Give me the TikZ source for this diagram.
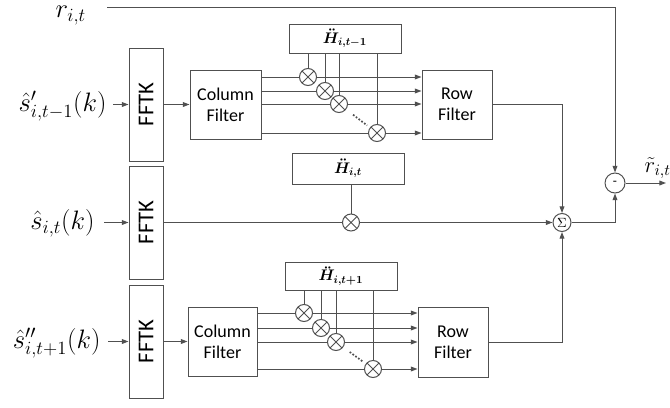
\documentclass[tikz,border=0pt]{standalone}
\usepackage{fix-cm}
\usepackage[no-math]{fontspec}
\setmainfont{Carlito}
\usepackage{amsmath,bm,graphicx}
\usetikzlibrary{arrows.meta,calc}
\definecolor{ln}{HTML}{505050}
\begin{document}
\begin{tikzpicture}[x=0.75pt,y=-0.75pt,
  line width=0.75pt,
  box/.style={draw=ln, line width=0.75pt, inner sep=0pt, align=center, fill=white,
              font=\fontsize{13.5}{16}\selectfont},
  hbox/.style={draw=ln, line width=0.75pt, inner sep=0pt, minimum width=84pt,
              font=\fontsize{11.5}{13}\selectfont},
  mult/.style={circle, draw=ln, fill=white, line width=0.75pt, minimum size=12.75pt, inner sep=0pt,
     path picture={\draw[ln, line width=0.75pt] (path picture bounding box.south west) -- (path picture bounding box.north east)
                   (path picture bounding box.north west) -- (path picture bounding box.south east);}},
  circ/.style={circle, draw=ln, line width=0.75pt, inner sep=0pt, font=\fontsize{10}{10}\selectfont},
  lab/.style={inner sep=0pt, font=\fontsize{20}{24}\selectfont},
  arr/.style={draw=ln, -{Triangle[length=5pt,width=3.6pt]}},
  ln/.style={draw=ln},
  dots/.style={draw=ln, line width=1.3pt, dash pattern=on 1.3pt off 1.3pt}
]
\useasboundingbox (0,0) rectangle (670,407);

% ---------- labels ----------
\node[lab, anchor=base west] (rl) at (55,17) {$r_{i,t}$};
\node[lab, anchor=base east] (in1) at (107,111) {$\hat{s}'_{i,t-1}(k)$};
\node[lab, anchor=base east] (in2) at (95,229) {$\hat{s}_{i,t}(k)$};
\node[lab, anchor=base east] (in3) at (101,348) {$\hat{s}''_{i,t+1}(k)$};

% ---------- FFTK ----------
\node[box, minimum width=25.5pt, minimum height=84.75pt, font=\fontsize{17}{17}\selectfont] (f1) at (146,104.5) {\rotatebox{90}{FFTK}};
\node[box, minimum width=25.5pt, minimum height=84.75pt, font=\fontsize{17}{17}\selectfont] (f2) at (146,222.5) {\rotatebox{90}{FFTK}};
\node[box, minimum width=25.5pt, minimum height=84.75pt, font=\fontsize{17}{17}\selectfont] (f3) at (146,341.5) {\rotatebox{90}{FFTK}};

% ---------- filters ----------
\node[box, minimum width=53.25pt, minimum height=51.75pt] (cf1) at (225.5,104.5) {Column\\Filter};
\node[box, minimum width=52.5pt, minimum height=51.75pt] (rf1) at (457,104.5) {Row\\Filter};
\node[box, minimum width=51.75pt, minimum height=51.75pt] (cf3) at (222.5,341.5) {Column\\Filter};
\node[box, minimum width=52.5pt, minimum height=52.5pt] (rf3) at (453,342) {Row\\Filter};

% ---------- H boxes ----------
\node[hbox, minimum height=21.75pt] (h1) at (345,38.5) {$\bm{\ddot{H}_{i,t-1}}$};
\node[hbox, minimum height=23.25pt] (h2) at (348,168.5) {$\bm{\ddot{H}_{i,t}}$};
\node[hbox, minimum height=21pt] (h3) at (341,276) {$\bm{\ddot{H}_{i,t+1}}$};

% ---------- multipliers ----------
\node[mult] (m11) at (308,77) {};
\node[mult] (m12) at (325,91) {};
\node[mult] (m13) at (339,104) {};
\node[mult] (m14) at (377,133) {};
\node[mult] (m2) at (351,222.5) {};
\node[mult] (m31) at (304,313) {};
\node[mult] (m32) at (321,328) {};
\node[mult] (m33) at (336,342) {};
\node[mult] (m34) at (373,369) {};

% ---------- sum / difference ----------
\node[circ, minimum size=13.5pt] (sum) at (562,222.5) {$\Sigma$};
\node[circ, minimum size=15pt] (minus) at (615,183) {-};
\node[inner sep=0pt, anchor=base west, font=\fontsize{17}{20}\selectfont] (rt) at (644,172) {$\tilde{r}_{i,t}$};
\coordinate (r0) at (107,7);
\coordinate (out) at (666,183);

% ---------- connectors ----------
\draw[arr] ([xshift=4.5pt]in1.east |- f1.west) -- (f1.west);
\draw[arr] ([xshift=6.75pt]in2.east |- f2.west) -- (f2.west);
\draw[arr] ([xshift=5.25pt]in3.east |- f3.west) -- (f3.west);
\draw[arr] (f1) -- (cf1);
\draw[arr] (f3.east |- cf3) -- (cf3);

% top block
\draw[ln] (cf1.east |- m11) -- (m11);
\draw[arr] (m11) -- (rf1.west |- m11);
\draw[ln] (cf1.east |- m12) -- (m12);
\draw[arr] (m12) -- (rf1.west |- m12);
\draw[ln] (cf1.east |- m13) -- (m13);
\draw[arr] (m13) -- (rf1.west |- m13);
\draw[ln] (cf1.east |- m14) -- (m14);
\draw[arr] (m14) -- (rf1.west |- m14);
\draw[ln] (h1.south -| m11) -- (m11);
\draw[ln] (h1.south -| m12) -- (m12);
\draw[ln] (h1.south -| m13) -- (m13);
\draw[ln] (h1.south -| m14) -- (m14);
\draw[dots] ($(m13)!0.37!(m14)$) -- ($(m13)!0.74!(m14)$);

% middle
\draw[ln] (f2) -- (m2);
\draw[arr] (m2) -- (sum);
\draw[ln] (h2.south -| m2) -- (m2);

% bottom block
\draw[ln] (cf3.east |- m31) -- (m31);
\draw[arr] (m31) -- (rf3.west |- m31);
\draw[ln] (cf3.east |- m32) -- (m32);
\draw[arr] (m32) -- (rf3.west |- m32);
\draw[ln] (cf3.east |- m33) -- (m33);
\draw[arr] (m33) -- (rf3.west |- m33);
\draw[ln] (cf3.east |- m34) -- (m34);
\draw[arr] (m34) -- (rf3.west |- m34);
\draw[ln] (h3.south -| m31) -- (m31);
\draw[ln] (h3.south -| m32) -- (m32);
\draw[ln] (h3.south -| m33) -- (m33);
\draw[ln] (h3.south -| m34) -- (m34);
\draw[dots] ($(m33)!0.37!(m34)$) -- ($(m33)!0.74!(m34)$);

% outputs
\draw[arr] (rf1) -| (sum);
\draw[arr] (rf3) -| (sum);
\draw[arr] (sum) -| (minus);
\draw[arr] (r0) -| (minus);
\draw[arr] (minus) -- (out);
\end{tikzpicture}
\end{document}
